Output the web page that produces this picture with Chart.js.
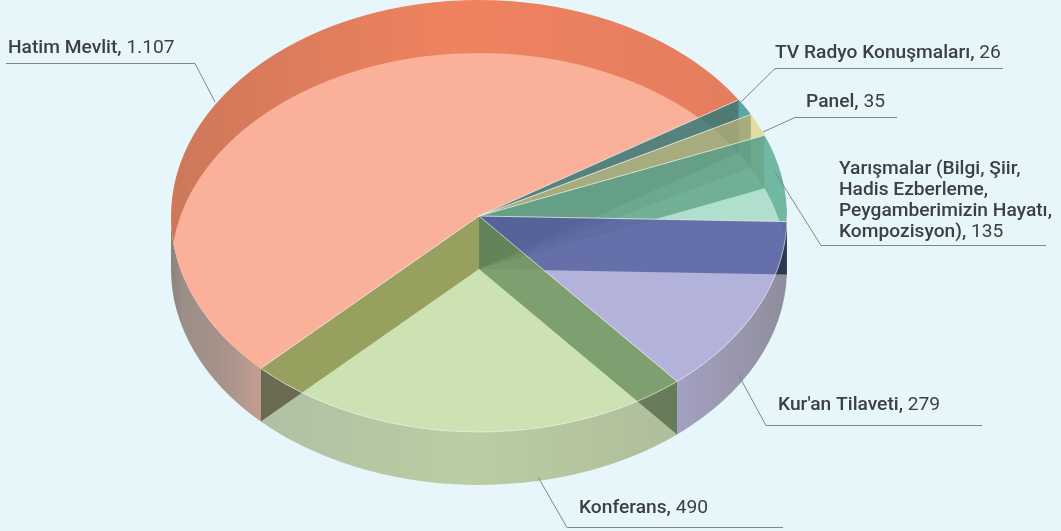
<!DOCTYPE html>
<html>
<head>
<meta charset="utf-8">
<title>Pie</title>
<script src="https://cdn.jsdelivr.net/npm/chart.js@4"></script>
<style>
  html, body { margin: 0; padding: 0; background: #e6f6fa; }
  canvas { display: block; }
</style>
</head>
<body>
<canvas id="pie" width="1061" height="531"></canvas>
<script>
var categories = ['Hatim Mevlit', 'TV Radyo Konuşmaları', 'Panel',
  'Yarışmalar (Bilgi, Şiir, Hadis Ezberleme, Peygamberimizin Hayatı, Kompozisyon)',
  "Kur'an Tilaveti", 'Konferans'];
var values = [1107, 26, 35, 135, 279, 490];

var faceColors = ['#fbb09a', '#638b8c', '#efe9b8', '#b0dfcd', '#b3b2da', '#cde2b3'];

// outer wall shading, from the slice's start angle to its end angle
var frontWall = [
  ['#c49c90', '#b89a8f', '#ae968c', '#a89289', '#a39089', '#a09089', '#9c8e88', '#8f827c'], null, null, ['#3f5a70', '#3f5a70'],
  ['#8f8d9c', '#9a98ae', '#a3a0c2'], ['#afbe9b', '#bacda3', '#afc1a5']
];
var backWall = [
  ['rgb(205,120,90)', 'rgb(240,130,95)', 'rgb(228,125,95)'],
  ['rgb(90,165,165)', 'rgb(90,165,165)'],
  ['rgba(225,220,160,1)', 'rgba(225,220,160,1)'],
  ['rgb(112,184,162)', 'rgb(112,184,162)'],
  null, null
];
// radial wall at each slice's start: tint on the face it lies under, and the
// slice that face belongs to
var radialTint = ['rgba(109,106,26,.55)', 'rgba(30,95,65,.2)', 'rgba(80,100,50,.38)',
  'rgba(40,120,85,.45)', 'rgba(49,68,138,.6)', 'rgba(47,94,45,.5)'];
var radialUnder = [5, 1, 2, 3, 4, 5];
var radialOutside = ['rgba(35,20,0,.5)', 'rgba(0,0,0,0)', 'rgba(0,0,0,0)', 'rgba(0,0,0,0)',
  'rgba(0,20,50,.7)', 'rgba(0,30,0,.42)'];
var throughFace = 'rgba(30,50,40,.09)';

// callouts
var labelLines = [
  ['Hatim Mevlit'], ['TV Radyo Konuşmaları'], ['Panel'],
  ['Yarışmalar (Bilgi, Şiir,', 'Hadis Ezberleme,', 'Peygamberimizin Hayatı,', 'Kompozisyon)'],
  ["Kur'an Tilaveti"], ['Konferans']
];
var labelPos = [[8, 53], [775, 58], [806, 107], [839, 174], [778, 410], [579, 513]];
var leaders = [
  [[6, 63.5], [195, 63.5], [215, 102]],
  [[1003, 68.5], [775, 68.5], [740, 103]],
  [[897, 117.5], [795, 117.5], [763, 132]],
  [[1046, 245.5], [821, 245.5], [775, 172]],
  [[982, 425.5], [766, 425.5], [738, 374]],
  [[783, 527.5], [567, 527.5], [538, 477]]
];

var xStretch = 308 / 216;
var depth = 53;
var textColor = '#3d4043';

function geom(chart) {
  var arcs = chart.getDatasetMeta(0).data;
  var a = arcs[0];
  return { arcs: arcs, cx: a.x, cy: a.y, ry: a.outerRadius, rx: a.outerRadius * xStretch };
}

function sectorPath(ctx, g, arc) {
  ctx.beginPath();
  ctx.moveTo(g.cx, g.cy);
  ctx.ellipse(g.cx, g.cy, g.rx, g.ry, 0, arc.startAngle, arc.endAngle);
  ctx.closePath();
}

// whole top face except one slice
function otherFacesPath(ctx, g, arc) {
  ctx.beginPath();
  ctx.ellipse(g.cx, g.cy, g.rx, g.ry, 0, 0, Math.PI * 2);
  ctx.closePath();
  ctx.moveTo(g.cx, g.cy);
  ctx.ellipse(g.cx, g.cy, g.rx, g.ry, 0, arc.startAngle, arc.endAngle);
  ctx.closePath();
}

function radialPath(ctx, g, angle) {
  var x = g.cx + g.rx * Math.cos(angle), y = g.cy + g.ry * Math.sin(angle);
  ctx.beginPath();
  ctx.moveTo(g.cx, g.cy);
  ctx.lineTo(x, y);
  ctx.lineTo(x, y + depth);
  ctx.lineTo(g.cx, g.cy + depth);
  ctx.closePath();
}

// outer wall of one slice, cut where it goes from the front of the pie to the back
function drawWall(ctx, g, arc, front, stops) {
  if (!stops) return;
  var k = Math.floor(arc.startAngle / Math.PI);
  for (; k * Math.PI < arc.endAngle; k++) {
    var a0 = Math.max(arc.startAngle, k * Math.PI), a1 = Math.min(arc.endAngle, (k + 1) * Math.PI);
    var isFront = ((k % 2) + 2) % 2 === 0;
    if (a1 <= a0 || isFront !== front) continue;
    var grad = ctx.createLinearGradient(g.cx + g.rx * Math.cos(a0), 0, g.cx + g.rx * Math.cos(a1), 0);
    stops.forEach(function(c, i) { grad.addColorStop(i / (stops.length - 1), c); });
    ctx.beginPath();
    ctx.ellipse(g.cx, g.cy, g.rx, g.ry, 0, a0, a1);
    ctx.ellipse(g.cx, g.cy + depth, g.rx, g.ry, 0, a1, a0, true);
    ctx.closePath();
    ctx.fillStyle = grad;
    ctx.fill();
  }
}

var pie3d = {
  id: 'pie3d',
  beforeDatasetsDraw: function(chart) {
    var ctx = chart.ctx, g = geom(chart);
    g.arcs.forEach(function(arc, i) { drawWall(ctx, g, arc, true, frontWall[i]); });
    g.arcs.forEach(function(arc, i) {
      radialPath(ctx, g, arc.startAngle);
      ctx.fillStyle = radialOutside[i];
      ctx.fill();
    });
    ctx.save();
    ctx.translate(g.cx, 0);
    ctx.scale(xStretch, 1);
    ctx.translate(-g.cx, 0);
  },
  afterDatasetsDraw: function(chart) {
    var ctx = chart.ctx;
    ctx.restore();
    var g = geom(chart);

    // back walls show fully through their own face, faintly through the others
    g.arcs.forEach(function(arc, i) {
      if (!backWall[i]) return;
      ctx.save();
      sectorPath(ctx, g, arc);
      ctx.clip();
      drawWall(ctx, g, arc, false, backWall[i]);
      ctx.restore();
      ctx.save();
      otherFacesPath(ctx, g, arc);
      ctx.clip('evenodd');
      drawWall(ctx, g, arc, false, [throughFace, throughFace]);
      ctx.restore();
    });

    g.arcs.forEach(function(arc, i) {
      var u = g.arcs[radialUnder[i]];
      ctx.save();
      sectorPath(ctx, g, u);
      ctx.clip();
      radialPath(ctx, g, arc.startAngle);
      ctx.fillStyle = radialTint[i];
      ctx.fill();
      ctx.restore();
      ctx.save();
      otherFacesPath(ctx, g, u);
      ctx.clip('evenodd');
      radialPath(ctx, g, arc.startAngle);
      ctx.fillStyle = throughFace;
      ctx.fill();
      ctx.restore();
    });

    // light seams on the top face
    ctx.lineWidth = 1;
    g.arcs.forEach(function(arc) {
      ctx.strokeStyle = 'rgba(235,238,232,.75)';
      ctx.beginPath();
      ctx.moveTo(g.cx, g.cy);
      ctx.lineTo(g.cx + g.rx * Math.cos(arc.startAngle), g.cy + g.ry * Math.sin(arc.startAngle));
      ctx.stroke();
    });
    ctx.strokeStyle = 'rgba(235,238,232,.6)';
    ctx.beginPath();
    ctx.ellipse(g.cx, g.cy, g.rx, g.ry, 0, 0, Math.PI * 0.75);
    ctx.stroke();
  },
  afterDraw: function(chart) {
    var ctx = chart.ctx;
    ctx.save();
    leaders.forEach(function(pts) {
      ctx.strokeStyle = '#80868a';
      ctx.lineWidth = 1;
      ctx.beginPath();
      pts.forEach(function(p, i) { if (i) ctx.lineTo(p[0], p[1]); else ctx.moveTo(p[0], p[1]); });
      ctx.stroke();
    });
    ctx.textBaseline = 'alphabetic';
    ctx.fillStyle = textColor;
    labelLines.forEach(function(lines, i) {
      var x = labelPos[i][0], y = labelPos[i][1];
      lines.forEach(function(line, j) {
        ctx.font = '500 19.2px Roboto';
        ctx.fillText(line, x, y + j * 21);
        if (j === lines.length - 1) {
          var w = ctx.measureText(line + ', ').width;
          ctx.fillText(', ', x + ctx.measureText(line).width, y + j * 21);
          ctx.font = '400 19.2px Roboto';
          ctx.fillText(values[i].toLocaleString('tr-TR'), x + w, y + j * 21);
        }
      });
    });
    ctx.restore();
  }
};

new Chart(document.getElementById('pie'), {
  type: 'pie',
  data: {
    labels: categories,
    datasets: [{ data: values, backgroundColor: faceColors, borderWidth: 0, clip: false }]
  },
  options: {
    responsive: false,
    animation: false,
    events: [],
    rotation: 225.1,
    layout: { padding: { right: 103, bottom: 99 } },
    plugins: { legend: { display: false }, tooltip: { enabled: false } }
  },
  plugins: [pie3d]
});
</script>
</body>
</html>
